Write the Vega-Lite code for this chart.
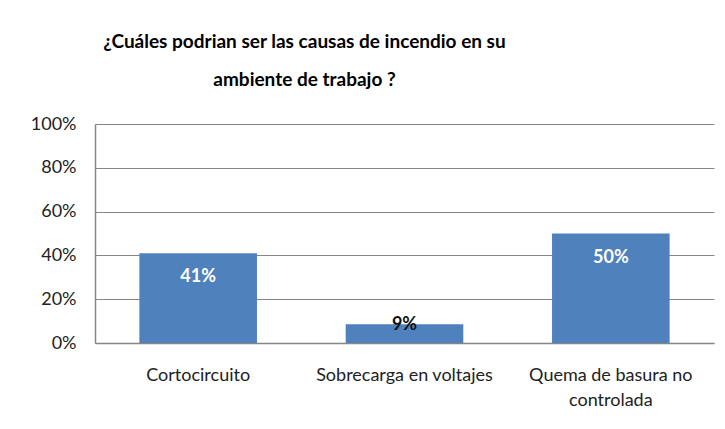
{
  "$schema": "https://vega.github.io/schema/vega-lite/v6.json",
  "width": 619,
  "height": 219,
  "padding": {"left": 30, "top": 33, "right": 5, "bottom": 5},
  "background": "white",
  "title": {
    "text": ["¿Cuáles podrian ser las causas de incendio en su", "ambiente de trabajo  ?"],
    "font": "Lato",
    "fontSize": 19,
    "fontWeight": "bold",
    "color": "#000000",
    "lineHeight": 38,
    "anchor": "middle",
    "frame": "group",
    "dx": -100,
    "offset": 25
  },
  "data": {
    "values": [
      {"causa": "Cortocircuito", "valor": 0.41},
      {"causa": "Sobrecarga en voltajes", "valor": 0.086},
      {"causa": "Quema de basura no controlada", "valor": 0.50}
    ]
  },
  "encoding": {
    "x": {
      "field": "causa",
      "type": "nominal",
      "sort": null,
      "title": null,
      "scale": {"paddingInner": 0.43, "paddingOuter": 0.215},
      "axis": {
        "labelAngle": 0,
        "labelFont": "Lato",
        "labelFontSize": 18,
        "labelColor": "#222222",
        "labelPadding": 23,
        "labelLineHeight": 25,
        "labelExpr": "datum.label == 'Quema de basura no controlada' ? ['Quema de basura no', 'controlada'] : datum.label",
        "ticks": false,
        "domainColor": "#868686",
        "domainWidth": 1.5
      }
    },
    "y": {
      "field": "valor",
      "type": "quantitative",
      "title": null,
      "scale": {"domain": [0, 1]},
      "axis": {
        "values": [0, 0.2, 0.4, 0.6, 0.8, 1],
        "format": ".0%",
        "labelFont": "Lato",
        "labelFontSize": 18,
        "labelColor": "#222222",
        "labelPadding": 19,
        "ticks": false,
        "domainColor": "#868686",
        "domainWidth": 1.5,
        "gridColor": "#868686",
        "gridWidth": 1,
        "minExtent": 65,
        "maxExtent": 65
      }
    }
  },
  "layer": [
    {"mark": {"type": "bar", "color": "#4F81BD"}},
    {
      "transform": [{"filter": "datum.valor >= 0.2"}],
      "mark": {"type": "text", "font": "Lato", "fontSize": 18, "fontWeight": "bold", "color": "#FFFFFF", "baseline": "middle", "dy": 24},
      "encoding": {"text": {"field": "valor", "type": "quantitative", "format": ".0%"}}
    },
    {
      "transform": [{"filter": "datum.valor < 0.2"}],
      "mark": {"type": "text", "font": "Lato", "fontSize": 18, "fontWeight": "bold", "color": "#111111", "baseline": "middle", "dy": 1},
      "encoding": {"text": {"field": "valor", "type": "quantitative", "format": ".0%"}}
    }
  ],
  "config": {"view": {"stroke": null}}
}
